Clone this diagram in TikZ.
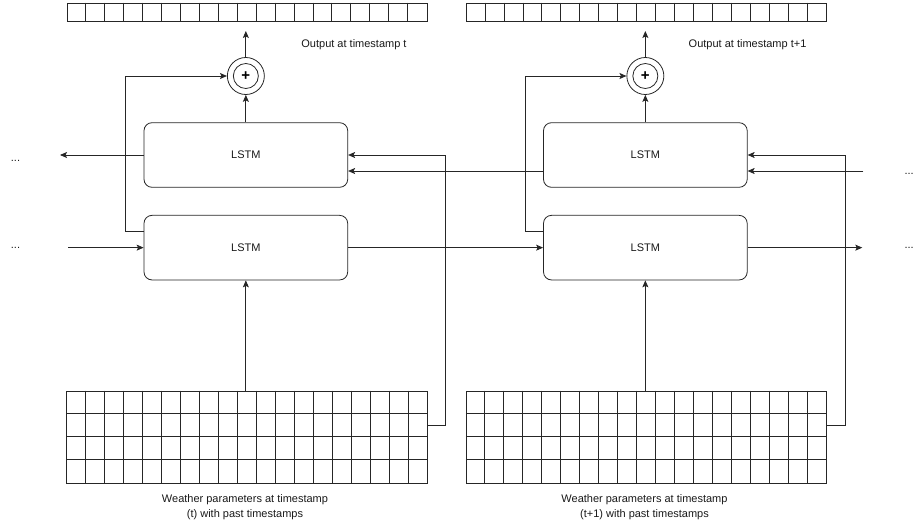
\documentclass[tikz,border=0pt]{standalone}
\usepackage{fontspec}
\setmainfont{Liberation Sans}
\usetikzlibrary{arrows.meta,calc}
\tikzset{
  ln/.style={draw=black!85, line width=0.8pt},
  arr/.style={ln, -{Stealth[length=7pt,width=6pt,inset=1.5pt]}},
  lbl/.style={font=\fontsize{11}{13}\selectfont, inner sep=0pt, text=black!90},
  lstm/.style={ln, lbl, rounded corners=8pt, minimum width=203.7pt, minimum height=64.6pt},
  cellbox/.style={ln, inner sep=0pt},
  sumring/.style={ln, circle, inner sep=0pt, minimum size=37pt},
  suminner/.style={ln, circle, inner sep=0pt, minimum size=25pt, font=\fontsize{15}{15}\selectfont\bfseries}
}
\begin{document}
\begin{tikzpicture}[x=1pt,y=-1pt]
\useasboundingbox (0,0) rectangle (914,524);
\foreach \i/\o/\t in {1/0/{(t)}, 2/399.5/{(t+1)}} {
  \begin{scope}[xshift=\o pt]
    % output bar
    \node[cellbox, minimum width=360pt, minimum height=18pt] (out\i) at (247,12) {};
    \foreach \c in {1,...,18}
      \draw[ln] ($(out\i.north west)+(\c*18.947,0)$) -- ($(out\i.south west)+(\c*18.947,0)$);
    % sum
    \node[sumring] (sum\i) at (245.85,76) {};
    \node[suminner] (sumin\i) at (245.85,76) {+};
    \coordinate (o\i) at (245.85,31);
    % LSTMs
    \node[lstm] (top\i) at (245.85,155) {LSTM};
    \node[lstm] (bot\i) at (245.85,247.65) {LSTM};
    % grid
    \node[cellbox, minimum width=360.6pt, minimum height=92.3pt] (grid\i) at (247,437.15) {};
    \foreach \c in {1,...,18}
      \draw[ln] ($(grid\i.north west)+(\c*18.979,0)$) -- ($(grid\i.south west)+(\c*18.979,0)$);
    \foreach \r in {1,2,3}
      \draw[ln] ($(grid\i.north west)+(0,\r*23.075)$) -- ($(grid\i.north east)+(0,\r*23.075)$);
    \node[lbl, anchor=base] (w\i a) at (245,502.5) {Weather parameters at timestamp};
    \node[lbl, anchor=base] (w\i b) at (245,517) {\t{} with past timestamps};
    % connectors
    \draw[arr] (top\i.north) -- (sum\i.south);
    \draw[arr] (sum\i.north) -- (o\i);
    \draw[arr] (bot\i.west |- 0,231.7) -- (125.7,231.7) -- (125.7,76) -- (sum\i.west);
    \draw[arr] (bot\i.south |- grid\i.north) -- (bot\i.south);
    \draw[arr] (grid\i.east |- 0,425) -- (445.5,425) -- (445.5,155) -- (top\i.east);
  \end{scope}
}
\node[lbl, anchor=base west] (ot1) at (301.2,47.5) {Output at timestamp t};
\node[lbl, anchor=base west] (ot2) at (688.5,47.5) {Output at timestamp t+1};
% dots
\node[lbl, anchor=base west] (d1) at (10.7,161.2) {...};
\node[lbl, anchor=base west] (d2) at (10.7,249) {...};
\node[lbl, anchor=base west] (d3) at (904.3,174.5) {...};
\node[lbl, anchor=base west] (d4) at (904.3,249) {...};
\coordinate (lo) at (60,155);
\coordinate (li) at (68,247.65);
\coordinate (ri) at (863.3,171);
\coordinate (ro) at (862.3,247.65);
% cross-block connectors
\draw[arr] (top2.west |- 0,171) -- (top1.east |- 0,171);
\draw[arr] (bot1.east) -- (bot2.west);
\draw[arr] (top1.west) -- (lo);
\draw[arr] (li) -- (bot1.west);
\draw[arr] (ri) -- (top2.east |- 0,171);
\draw[arr] (bot2.east) -- (ro);
\end{tikzpicture}
\end{document}
